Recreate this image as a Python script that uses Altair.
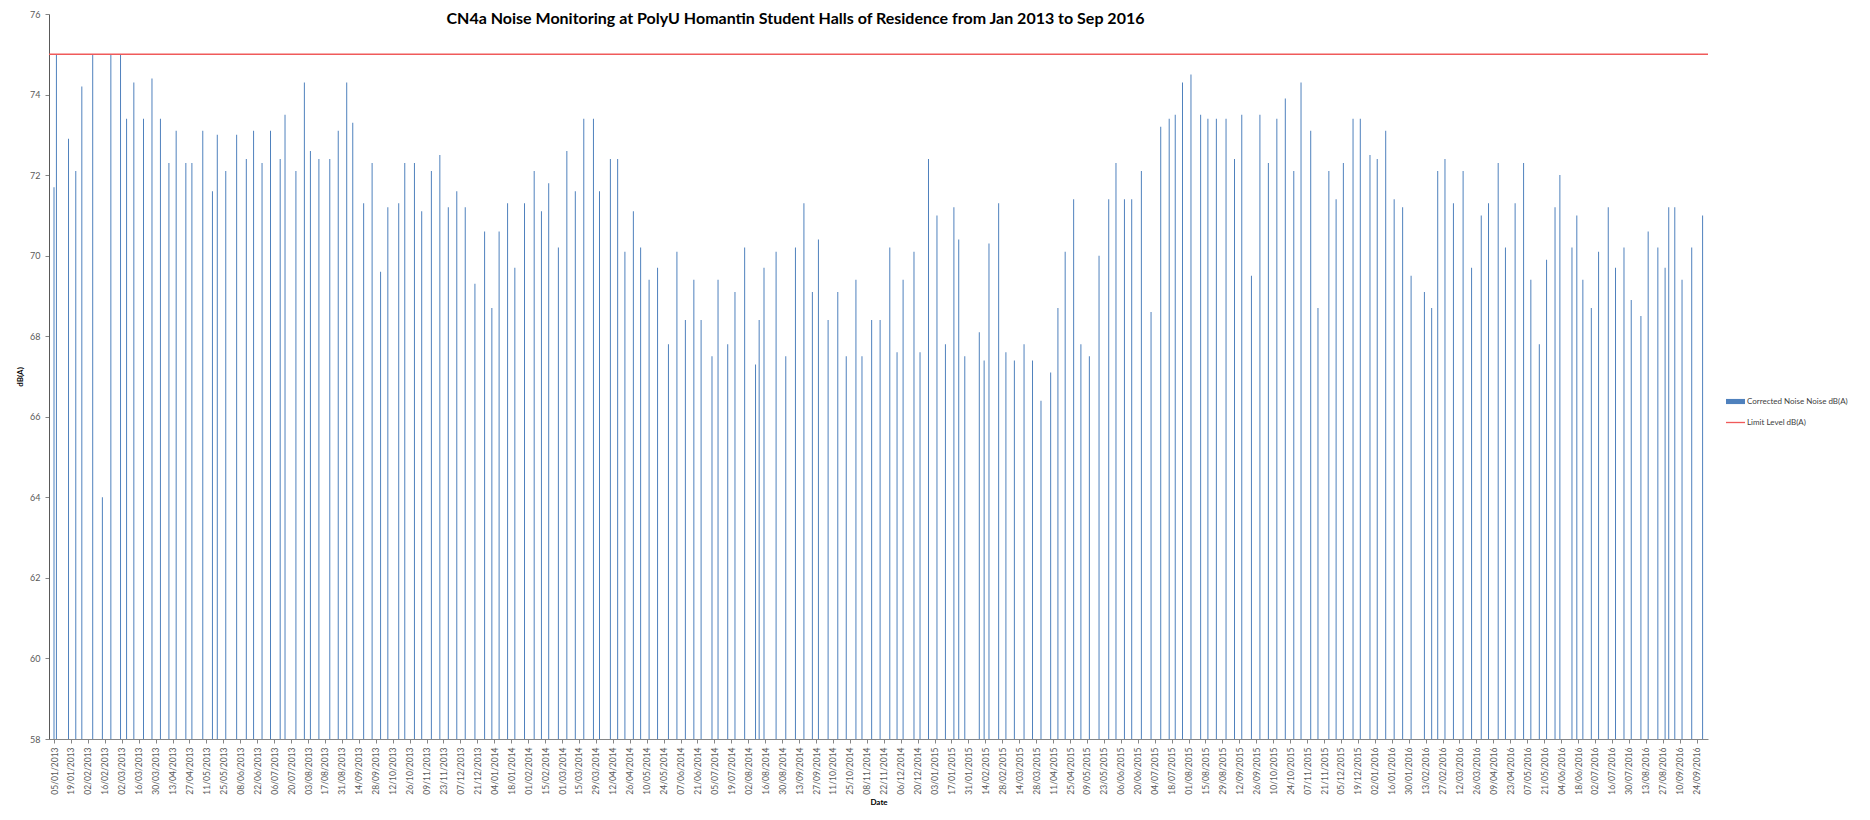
import altair as alt
import pandas as pd

# ---- data ----
# measurement dates, as days after 05/01/2013
day_offsets = [
    0, 2, 12, 18, 23, 32, 40, 47, 55, 60, 66, 74, 81, 88, 95, 101, 109, 114, 123, 131,
    135, 142, 151, 159, 165, 172, 179, 187, 191, 200, 207, 212, 219, 228, 235, 242, 247, 256, 263, 270,
    276, 285,
    290, 298, 304, 312, 319, 326, 333, 340, 348, 356, 362, 368, 375, 381, 389, 397, 403, 409, 417, 424,
    431, 438, 446, 451, 460, 466, 472, 479, 485, 492, 499, 508, 515, 522, 529, 535, 544, 549, 557, 563,
    571, 580, 583, 587, 597,
    605, 613, 620, 627, 632, 640, 648, 655, 663, 668, 676, 683, 691, 697, 702, 711, 716, 723, 730, 737,
    744, 748, 753, 765, 769, 773, 781, 787, 794, 802, 809, 816, 824, 830, 836, 843, 849, 856, 864, 872,
    878, 885, 891, 899, 907,
    915, 922, 927, 933, 940, 948, 954, 961, 969, 976, 982, 990, 997, 1004, 1011, 1018, 1025, 1031, 1039, 1045,
    1054, 1060, 1066, 1074, 1080, 1088, 1094, 1101, 1108, 1115, 1122, 1133, 1139, 1144, 1150, 1157, 1165, 1172,
    1180, 1186, 1194, 1200, 1208, 1215, 1221,
    1228, 1234, 1241, 1245, 1255, 1259, 1264, 1271, 1277, 1285, 1291, 1298, 1304, 1312, 1318, 1326, 1332, 1335,
    1340, 1346, 1354, 1363,
]

noise_values = [
    71.7, 75.0, 72.9, 72.1, 74.2, 75.0, 64.0, 75.0, 75.0, 73.4, 74.3, 73.4, 74.4, 73.4, 72.3, 73.1, 72.3, 72.3, 73.1, 71.6,
    73.0, 72.1, 73.0, 72.4, 73.1, 72.3, 73.1, 72.4, 73.5, 72.1, 74.3, 72.6, 72.4, 72.4, 73.1, 74.3, 73.3, 71.3, 72.3, 69.6,
    71.2, 71.3,
    72.3, 72.3, 71.1, 72.1, 72.5, 71.2, 71.6, 71.2, 69.3, 70.6, 68.7, 70.6, 71.3, 69.7, 71.3, 72.1, 71.1, 71.8, 70.2, 72.6,
    71.6, 73.4, 73.4, 71.6, 72.4, 72.4, 70.1, 71.1, 70.2, 69.4, 69.7, 67.8, 70.1, 68.4, 69.4, 68.4, 67.5, 69.4, 67.8, 69.1,
    70.2, 67.3, 68.4, 69.7, 70.1,
    67.5, 70.2, 71.3, 69.1, 70.4, 68.4, 69.1, 67.5, 69.4, 67.5, 68.4, 68.4, 70.2, 67.6, 69.4, 70.1, 67.6, 72.4, 71.0, 67.8,
    71.2, 70.4, 67.5, 68.1, 67.4, 70.3, 71.3, 67.6, 67.4, 67.8, 67.4, 66.4, 67.1, 68.7, 70.1, 71.4, 67.8, 67.5, 70.0, 71.4,
    72.3, 71.4, 71.4, 72.1, 68.6,
    73.2, 73.4, 73.5, 74.3, 74.5, 73.5, 73.4, 73.4, 73.4, 72.4, 73.5, 69.5, 73.5, 72.3, 73.4, 73.9, 72.1, 74.3, 73.1, 68.7,
    72.1, 71.4, 72.3, 73.4, 73.4, 72.5, 72.4, 73.1, 71.4, 71.2, 69.5, 69.1, 68.7, 72.1, 72.4, 71.3, 72.1, 69.7,
    71.0, 71.3, 72.3, 70.2, 71.3, 72.3, 69.4,
    67.8, 69.9, 71.2, 72.0, 70.2, 71.0, 69.4, 68.7, 70.1, 71.2, 69.7, 70.2, 68.9, 68.5, 70.6, 70.2, 69.7, 71.2,
    71.2, 69.4, 70.2, 71.0,
]

limit_level = [75.0]

series_names = ["Corrected Noise Noise dB(A)", "Limit Level dB(A)"]
series_colors = ["#4F81BD", "#F05A5A"]

first_date = "2013-01-05"
last_tick_date = "2016-09-24"
axis_end = "2016-09-29 08:00"
y_ticks = [58, 60, 62, 64, 66, 68, 70, 72, 74, 76]

title_text = "CN4a Noise Monitoring at PolyU Homantin Student Halls of Residence from Jan 2013 to  Sep 2016"

# ---- tables ----
start = pd.Timestamp(first_date)
dates = [(start + pd.Timedelta(days=d)).strftime("%Y-%m-%d") for d in day_offsets]
bars_df = pd.DataFrame({"date": dates, "value": noise_values, "series": series_names[0]})
limit_df = pd.DataFrame({"limit": limit_level, "series": series_names[1]})

tick_ms = [int(t.value // 10**6) for t in pd.date_range(first_date, last_tick_date, freq="14D")]
dom = [int(pd.Timestamp(first_date).value // 10**6), int(pd.Timestamp(axis_end).value // 10**6)]

FONT = "Lato"

color = alt.Color(
    "series:N",
    scale=alt.Scale(domain=series_names, range=series_colors),
    legend=alt.Legend(
        title=None,
        orient="none",
        legendX=1677,
        legendY=378,
        symbolType={"expr": "datum.value == 'Limit Level dB(A)' ? 'M-1,-0.07H1V0.07H-1Z' : 'M-1,-0.27H1V0.27H-1Z'"},
        symbolSize=361,
        symbolStrokeWidth=0,
        labelFont=FONT,
        labelFontSize=8,
        labelColor="#404040",
        labelOffset=2,
        rowPadding=7,
    ),
)

x = alt.X(
    "date:T",
    scale=alt.Scale(type="utc", domain=dom),
    axis=alt.Axis(
        values=tick_ms,
        labelExpr="utcFormat(datum.value, '%d/%m/%Y')",
        labelAngle=270,
        labelFontSize=8.5,
        labelPadding=4,
        labelOverlap=False,
        labelFlush=False,
        tickSize=4,
        title="Date",
        titleFontSize=8,
        titleFontWeight="bold",
        titleColor="#000000",
        titlePadding=4,
    ),
)

y_axis = alt.Axis(
    values=y_ticks,
    labelFontSize=9,
    tickSize=4,
    labelPadding=5,
    title="dB(A)",
    titleFontSize=8,
    titleFontWeight="bold",
    titleColor="#000000",
    titlePadding=5,
    domainColor="#595959",
)
y_scale = alt.Scale(domain=[58, 76], zero=False, nice=False)

bars = alt.Chart(bars_df).mark_bar(size=1, clip=True).encode(
    x=x,
    y=alt.Y("value:Q", scale=y_scale, axis=y_axis),
    color=color,
)

rule = alt.Chart(limit_df).mark_rule(strokeWidth=1.6).encode(
    y=alt.Y("limit:Q", scale=y_scale, axis=y_axis),
    color=color,
)

chart = (
    alt.layer(bars, rule)
    .properties(
        width=1659,
        height=725,
        padding={"left": 41, "top": 6, "right": 154, "bottom": 70},
        autosize=alt.AutoSizeParams(type="none"),
        title=alt.TitleParams(
            text=title_text,
            font=FONT,
            fontSize=16,
            fontWeight="bold",
            color="#000000",
            anchor="middle",
            frame="group",
            dx=-83,
            dy=17,
            offset=0,
        ),
    )
    .configure_view(stroke=None)
    .configure_axis(
        grid=False,
        domainColor="#868686",
        tickColor="#868686",
        labelColor="#595959",
        labelFont=FONT,
        titleFont=FONT,
    )
)

chart.save("out.html", embed_options={"renderer": "svg", "actions": False})
